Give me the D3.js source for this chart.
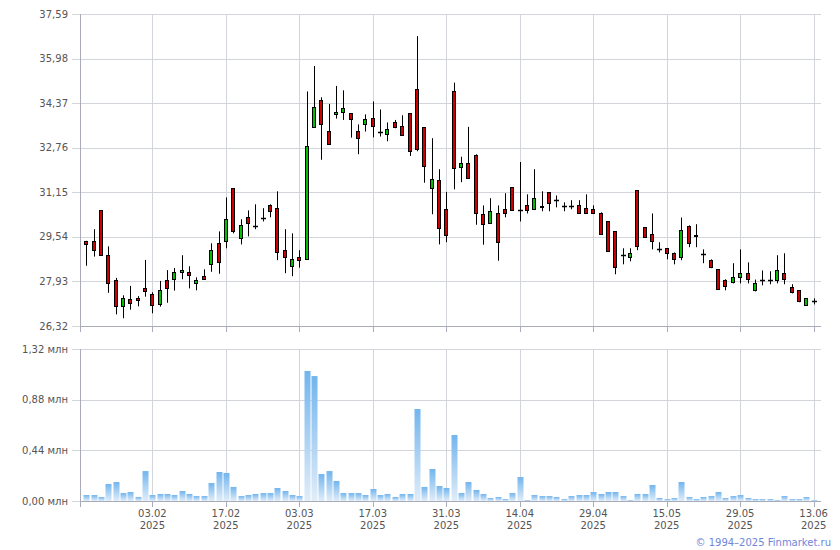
<!DOCTYPE html>
<html><head><meta charset="utf-8">
<script src="https://cdn.jsdelivr.net/npm/d3@7/dist/d3.min.js"></script>
<style>
html,body{margin:0;padding:0;background:#fff;}
svg{display:block;font-family:"DejaVu Sans",Verdana,sans-serif;}
</style></head>
<body><svg id="c" width="840" height="550"></svg>
<script>
const dates = ["21.01","22.01","23.01","24.01","27.01","28.01","29.01","30.01","31.01","03.02",
"04.02","05.02","06.02","07.02","10.02","11.02","12.02","13.02","14.02","17.02",
"18.02","19.02","20.02","21.02","24.02","25.02","26.02","27.02","28.02","03.03",
"04.03","05.03","06.03","07.03","10.03","11.03","12.03","13.03","14.03","17.03",
"18.03","19.03","20.03","21.03","24.03","25.03","26.03","27.03","28.03","31.03",
"01.04","02.04","03.04","04.04","07.04","08.04","09.04","10.04","11.04","14.04",
"15.04","16.04","17.04","18.04","21.04","22.04","23.04","24.04","25.04","29.04",
"30.04","02.05","05.05","06.05","07.05","08.05","12.05","13.05","14.05","15.05",
"16.05","19.05","20.05","21.05","22.05","23.05","26.05","27.05","28.05","29.05",
"30.05","02.06","03.06","04.06","05.06","06.06","09.06","10.06","11.06","13.06"];
const year = "2025";
const open = [29.38,29.39,30.50,28.88,27.97,27.03,27.29,27.32,27.68,27.47,
27.10,27.97,28.01,28.25,28.26,27.86,28.12,28.55,29.31,29.38,
31.30,29.49,30.25,29.92,30.21,30.68,30.58,29.06,28.48,28.80,
28.75,33.50,34.48,33.36,33.97,34.03,34.01,33.36,33.61,33.83,
33.32,33.25,33.68,33.54,34.01,34.88,33.50,31.30,31.59,30.54,
34.81,32.04,32.20,32.49,30.36,30.03,30.39,30.54,31.33,30.50,
30.68,30.54,30.65,31.15,30.87,30.65,30.65,30.68,30.58,30.54,
30.39,30.10,29.74,28.90,28.80,31.23,29.89,29.64,29.12,29.13,
28.95,28.80,29.92,29.60,28.91,28.70,28.37,27.97,27.90,28.08,
28.23,27.61,27.97,27.97,27.97,28.23,27.72,27.61,27.07,27.21];
const high = [29.40,29.82,30.50,29.20,28.06,27.43,27.77,27.40,28.71,27.54,
27.95,28.34,28.42,28.88,28.48,28.08,28.37,29.31,29.74,30.97,
31.30,30.18,30.50,30.72,30.58,30.72,31.19,29.82,29.67,29.06,
34.80,35.72,34.59,34.35,35.00,34.84,34.01,33.61,33.97,34.44,
34.15,33.68,33.77,33.94,34.01,36.80,33.50,33.11,31.99,31.17,
35.12,32.44,33.52,32.53,30.68,30.94,30.68,31.12,31.33,32.25,
31.08,31.99,31.19,31.15,31.04,30.79,30.87,30.87,31.08,30.68,
30.43,30.10,29.74,29.13,29.13,31.23,29.89,30.39,29.35,29.13,
28.98,30.24,29.96,30.00,29.09,28.73,28.37,28.01,28.59,29.09,
28.62,28.00,28.33,28.30,28.88,28.95,27.83,27.61,27.32,27.32];
const low = [28.50,28.83,28.85,27.52,26.74,26.60,26.91,27.03,27.38,26.78,
27.02,27.16,27.60,28.01,27.68,27.61,28.01,28.28,28.21,29.13,
29.67,29.27,29.56,29.82,30.10,30.25,28.70,28.23,28.12,28.43,
28.75,33.50,32.33,32.89,33.82,33.77,33.13,32.53,33.35,33.14,
33.17,33.00,33.47,33.20,32.47,32.64,31.50,30.36,29.27,29.35,
31.26,31.52,31.66,29.98,29.26,30.03,28.68,30.25,30.50,30.10,
30.39,30.54,30.47,30.47,30.61,30.47,30.54,30.39,30.39,30.39,
29.64,29.02,28.19,28.55,28.66,29.06,29.50,29.09,28.98,28.73,
28.55,28.70,29.17,29.17,28.59,28.41,27.65,27.61,27.86,27.86,
27.86,27.57,27.79,27.83,27.86,27.83,27.50,27.18,27.07,27.10];
const close = [29.27,29.08,28.88,27.85,27.03,27.32,27.16,27.24,27.56,27.07,
27.61,27.68,28.26,28.33,28.14,27.97,28.01,29.06,28.62,30.18,
29.74,29.96,30.03,29.92,30.21,30.47,28.98,28.80,28.74,28.70,
32.82,34.23,33.63,32.89,34.06,34.19,33.78,33.11,33.79,33.54,
33.32,33.44,33.49,33.20,32.62,32.71,32.09,31.62,29.85,29.60,
32.04,32.20,31.66,30.39,30.00,30.47,29.35,30.39,30.50,30.50,
30.50,30.94,30.61,30.76,30.87,30.65,30.65,30.39,30.39,30.39,
29.64,29.02,28.44,28.90,28.95,29.20,29.53,29.38,29.12,28.95,
28.73,29.78,29.31,29.58,28.91,28.44,27.65,27.76,28.08,28.23,
28.01,27.86,27.97,27.97,28.33,28.01,27.54,27.21,27.32,27.21];
const volume = [0.052,0.052,0.035,0.148,0.165,0.069,0.078,0.035,0.260,0.052,
0.061,0.061,0.052,0.087,0.061,0.043,0.043,0.156,0.252,0.243,
0.122,0.043,0.052,0.061,0.069,0.069,0.113,0.087,0.052,0.043,
1.129,1.085,0.234,0.260,0.174,0.069,0.069,0.069,0.052,0.104,
0.052,0.061,0.035,0.061,0.061,0.799,0.122,0.278,0.130,0.113,
0.573,0.069,0.165,0.096,0.061,0.026,0.035,0.017,0.069,0.208,
0.009,0.052,0.043,0.043,0.035,0.017,0.043,0.052,0.052,0.078,
0.061,0.078,0.078,0.043,0.009,0.061,0.061,0.139,0.026,0.017,
0.026,0.165,0.035,0.017,0.035,0.043,0.078,0.026,0.043,0.052,
0.026,0.017,0.017,0.017,0.009,0.043,0.017,0.017,0.035,0.009];
const priceTicks = [26.32,27.93,29.54,31.15,32.76,34.37,35.98,37.59];
const volTicks = [0,0.44,0.88,1.32];
const xTickIdx = [9,19,29,39,49,59,69,79,89,99];
const copyright = "© 1994–2025 Finmarket.ru";

const svg = d3.select("#c");
const L = 80, R = 821;
const x = d3.scaleLinear().domain([-0.85, 100]).range([L, R]);
const yP = d3.scaleLinear().domain([26.32, 37.59]).range([326, 14.3]);
const yV = d3.scaleLinear().domain([0, 1.32]).range([501, 349]);
const fmt = v => v.toFixed(2).replace(".", ",");
const grid = "#d2d6db", axisCol = "#a9abb9", txt = "#555";

const defs = svg.append("defs");
const g = defs.append("linearGradient").attr("id","vg").attr("x1",0).attr("y1",0).attr("x2",0).attr("y2",1);
g.append("stop").attr("offset","0%").attr("stop-color","#72b5ee");
g.append("stop").attr("offset","100%").attr("stop-color","#e1edf9");

function panel(y, ticks, top, bottom, labelFn) {
  const gg = svg.append("g");
  // horizontal grid
  gg.selectAll("line.h").data(ticks).join("line")
    .attr("x1", L-8).attr("x2", R)
    .attr("y1", d => Math.round(y(d))+0.5).attr("y2", d => Math.round(y(d))+0.5)
    .attr("stroke", grid);
  // vertical grid
  gg.selectAll("line.v").data(xTickIdx).join("line")
    .attr("x1", d => Math.round(x(d))+0.5).attr("x2", d => Math.round(x(d))+0.5)
    .attr("y1", top).attr("y2", bottom+6)
    .attr("stroke", grid);
  // axes
  gg.append("line").attr("x1", L+0.5).attr("x2", L+0.5).attr("y1", top).attr("y2", bottom+6).attr("stroke", axisCol);
  gg.append("line").attr("x1", L).attr("x2", R).attr("y1", Math.round(bottom)+0.5).attr("y2", Math.round(bottom)+0.5).attr("stroke", axisCol);
  gg.selectAll("line.t").data(xTickIdx).join("line")
    .attr("x1", d => Math.round(x(d))+0.5).attr("x2", d => Math.round(x(d))+0.5)
    .attr("y1", bottom).attr("y2", bottom+6).attr("stroke", axisCol);
  gg.selectAll("text.yl").data(ticks).join("text")
    .attr("x", 68).attr("y", d => y(d)).attr("dy","0.35em")
    .attr("text-anchor","end").attr("font-size",10).attr("fill",txt)
    .text(labelFn);
}
panel(yP, priceTicks, 14, 326, fmt);
panel(yV, volTicks, 349, 501, d => fmt(d) + " млн");

// candles
const idx = d3.range(dates.length);
const cg = svg.append("g");
cg.selectAll("line.w").data(idx).join("line")
  .attr("x1", i => Math.round(x(i))+0.5).attr("x2", i => Math.round(x(i))+0.5)
  .attr("y1", i => yP(high[i])).attr("y2", i => yP(low[i]))
  .attr("stroke","#000").attr("stroke-width",1);
cg.selectAll("rect.b").data(idx.filter(i => open[i] !== close[i])).join("rect")
  .attr("x", i => Math.round(x(i))-1.5).attr("width", 3)
  .attr("y", i => Math.round(yP(Math.max(open[i], close[i])))+0.5)
  .attr("height", i => Math.max(1, Math.round(Math.abs(yP(open[i]) - yP(close[i])))))
  .attr("fill", i => close[i] > open[i] ? "#00c000" : "#cc0000")
  .attr("stroke","#000").attr("stroke-width",1);
cg.selectAll("line.d").data(idx.filter(i => open[i] === close[i])).join("line")
  .attr("x1", i => Math.round(x(i))-2).attr("x2", i => Math.round(x(i))+3)
  .attr("y1", i => Math.round(yP(open[i]))+0.5).attr("y2", i => Math.round(yP(open[i]))+0.5)
  .attr("stroke","#000").attr("stroke-width",1.5);

// volume
svg.append("g").selectAll("rect").data(idx).join("rect")
  .attr("x", i => Math.round(x(i))-2.5).attr("width", 6)
  .attr("y", i => yV(volume[i])).attr("height", i => yV(0) - yV(volume[i]))
  .attr("fill","url(#vg)");

// x labels
const xl = svg.append("g").attr("font-size",10).attr("fill",txt).attr("text-anchor","middle");
xl.selectAll("text.a").data(xTickIdx).join("text")
  .attr("x", i => x(i)).attr("y", 517).text(i => dates[i]);
xl.selectAll("text.b").data(xTickIdx).join("text")
  .attr("x", i => x(i)).attr("y", 529).text(() => year);

svg.append("text").attr("x", 831).attr("y", 546).attr("text-anchor","end")
  .attr("font-size",10).attr("fill","#6f86d9").text(copyright);
</script></body></html>
